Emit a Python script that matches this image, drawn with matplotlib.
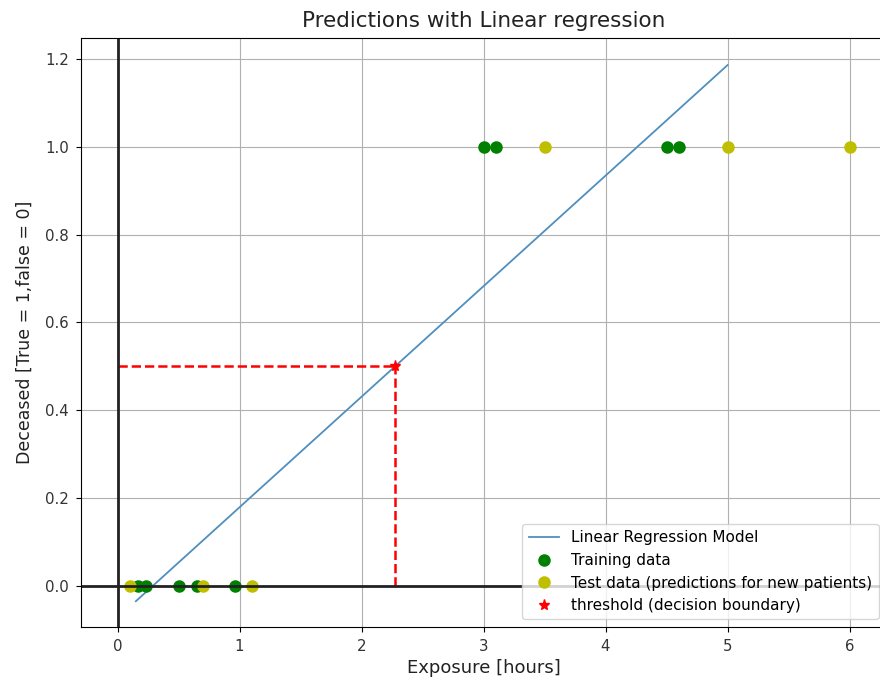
import matplotlib
matplotlib.use("Agg")
import matplotlib.pyplot as plt
import numpy as np

# Training observations (exposure in hours, deceased flag)
train_x = [0.17, 0.23, 0.5, 0.65, 0.96, 3.0, 3.1, 4.5, 4.6]
train_y = [0, 0, 0, 0, 0, 1, 1, 1, 1]

# New patients to predict
test_x = [0.1, 0.7, 1.1, 3.5, 5.0, 6.0]
test_y = [0, 0, 0, 1, 1, 1]

# Fitted linear model
intercept = -0.072
slope = 0.2515
line_x = np.array([0.15, 5.0])
line_y = intercept + slope * line_x

# Decision boundary where the model crosses 0.5
threshold_y = 0.5
threshold_x = (threshold_y - intercept) / slope

fig = plt.figure(figsize=(8.8, 6.82), dpi=100)
ax = fig.add_axes([0.092, 0.0806, 0.915, 0.8636])

ax.plot(line_x, line_y, color="#4f8fbf", lw=1.3, label="Linear Regression Model")
ax.plot(train_x, train_y, "go", ms=8, label="Training data")
ax.plot(test_x, test_y, "yo", ms=8, label="Test data (predictions for new patients)")
ax.plot([threshold_x], [threshold_y], "r*", ms=8, label="threshold (decision boundary)")

ax.plot([0, threshold_x], [threshold_y, threshold_y], "r--", lw=1.8)
ax.plot([threshold_x, threshold_x], [0, threshold_y], "r--", lw=1.8)

ax.axhline(0, color="#222222", lw=2)
ax.axvline(0, color="#222222", lw=2)

ax.set_xlim(-0.3, 6.3)
ax.set_ylim(-0.093, 1.247)
ax.set_xticks(range(0, 7))
ax.set_yticks([0.0, 0.2, 0.4, 0.6, 0.8, 1.0, 1.2])
ax.grid(True)

ax.set_title("Predictions with Linear regression", fontsize=15.5, color="#222222", pad=8)
ax.set_xlabel("Exposure [hours]", fontsize=13, color="#222222", labelpad=4)
ax.set_ylabel("Deceased [True = 1,false = 0]", fontsize=12.5, color="#222222", labelpad=8)
ax.tick_params(labelsize=10.8, labelcolor="#333333", pad=5)
ax.legend(loc="lower right", fontsize=11)

fig.savefig("out.png", dpi=100)
